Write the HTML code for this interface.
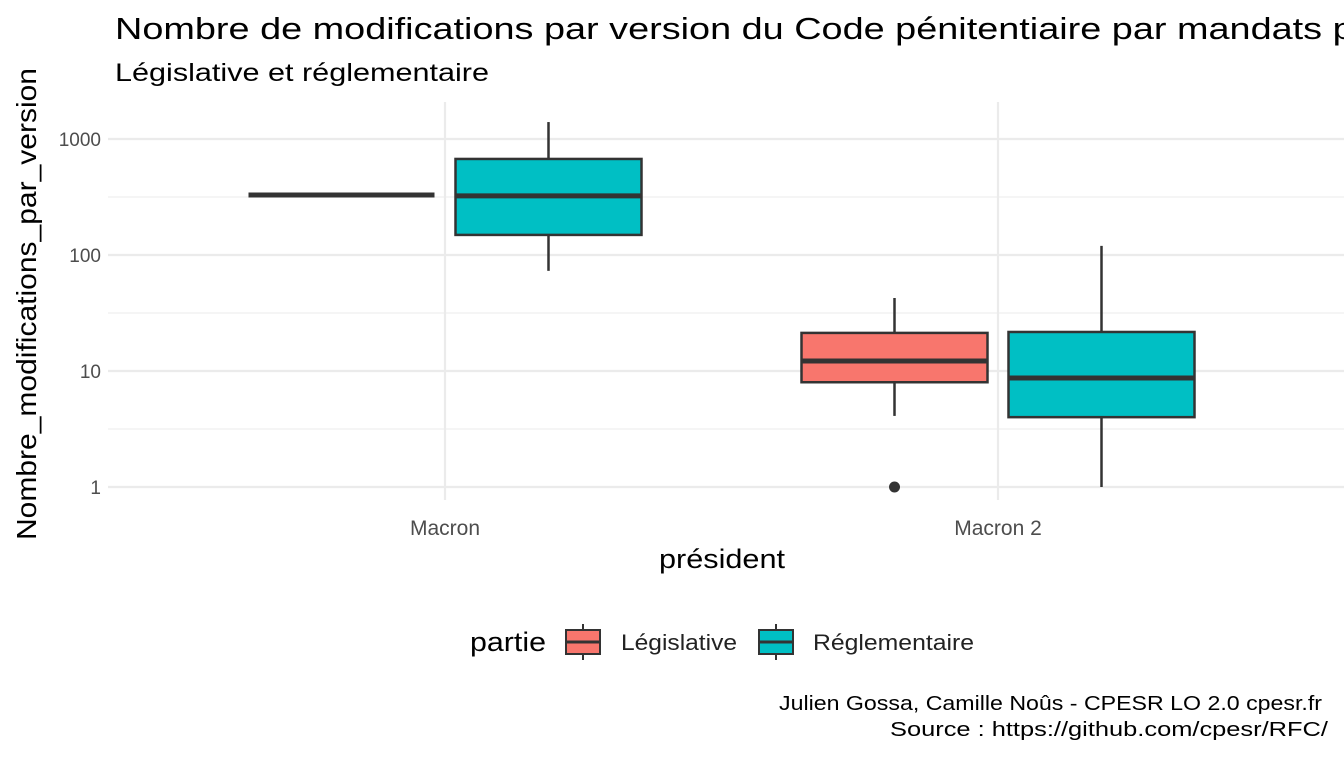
<!DOCTYPE html>
<html><head><meta charset="utf-8"><style>
body{margin:0;background:#fff;font-family:"Liberation Sans",sans-serif;overflow:hidden;}
svg text{font-family:"Liberation Sans",sans-serif;}
</style></head><body>
<svg id="c" width="1344" height="756" xmlns="http://www.w3.org/2000/svg">
<text x="115" y="39" font-size="31" fill="#000" textLength="1430" lengthAdjust="spacingAndGlyphs">Nombre de modifications par version du Code pénitentiaire par mandats présidentiels</text>
<text x="115" y="81" font-size="25" fill="#000" textLength="374" lengthAdjust="spacingAndGlyphs">Législative et réglementaire</text>
<g id="grid"></g>
<g id="marks"></g>
<text transform="translate(36,304) rotate(-90)" text-anchor="middle" font-size="28" fill="#000" textLength="472" lengthAdjust="spacingAndGlyphs">Nombre_modifications_par_version</text>
<text x="722" y="568" text-anchor="middle" font-size="27" fill="#000" textLength="126" lengthAdjust="spacingAndGlyphs">président</text>
<g>
<text x="470" y="651" font-size="27" fill="#000" textLength="76" lengthAdjust="spacingAndGlyphs">partie</text>
<g>
<line x1="583" y1="624" x2="583" y2="660" stroke="#333" stroke-width="2"/>
<rect x="566" y="630" width="34" height="24" fill="#F8766D" stroke="#333" stroke-width="2"/>
<line x1="566" y1="642" x2="600" y2="642" stroke="#333" stroke-width="3"/>
<text x="621" y="650" font-size="22" fill="#222" textLength="116" lengthAdjust="spacingAndGlyphs">Législative</text></g>
<g>
<line x1="776" y1="624" x2="776" y2="660" stroke="#333" stroke-width="2"/>
<rect x="759" y="630" width="34" height="24" fill="#00BFC4" stroke="#333" stroke-width="2"/>
<line x1="759" y1="642" x2="793" y2="642" stroke="#333" stroke-width="3"/>
<text x="813" y="650" font-size="22" fill="#222" textLength="161" lengthAdjust="spacingAndGlyphs">Réglementaire</text></g>
</g>
<text x="779" y="710" font-size="20" fill="#000" textLength="543" lengthAdjust="spacingAndGlyphs">Julien Gossa, Camille Noûs - CPESR LO 2.0 cpesr.fr</text>
<text x="890" y="736" font-size="20" fill="#000" textLength="438" lengthAdjust="spacingAndGlyphs">Source : https://github.com/cpesr/RFC/</text>
</svg>
<script>
const categories=["Macron","Macron 2"];
const series=["Législative","Réglementaire"];
const colors=["#F8766D","#00BFC4"];
const lowWhisker=[[329,73],[4.1,1]];
const q1=[[329,149],[8,4]];
const median=[[329,323],[12.2,8.7]];
const q3=[[329,673],[21.3,21.7]];
const highWhisker=[[329,1400],[42.6,120]];
const outliers=[[[],[]],[[1],[]]];
const yTicks=[1,10,100,1000];
const yTickLabels=["1","10","100","1000"];
const NS="http://www.w3.org/2000/svg";
const pleft=108,pright=1344,ptop=102,pbottom=500;
const yS=v=>487-116*Math.log10(v);
const xc=i=>445+i*553;
const off=[-103.5,103.5],bw=186;
function mk(tag,attrs,parent){const e=document.createElementNS(NS,tag);for(const k in attrs)e.setAttribute(k,attrs[k]);parent.appendChild(e);return e;}
const grid=document.getElementById('grid'),marks=document.getElementById('marks'),svgEl=document.getElementById('c');
yTicks.forEach((t,i)=>{
  const g=mk('line',{x1:pleft,x2:pright,y1:yS(t),y2:yS(t),stroke:'#ebebeb','stroke-width':2.2},grid);
  
  
  if(i<yTicks.length-1){
    const m=mk('line',{x1:pleft,x2:pright,y1:yS(t*Math.sqrt(10)),y2:yS(t*Math.sqrt(10)),stroke:'#ebebeb','stroke-width':1.1},grid);
    
    
  }
  const l=mk('text',{x:101,y:yS(t)+7,'text-anchor':'end','font-size':19,fill:'#4d4d4d'},svgEl);
  l.textContent=yTickLabels[i];
  
  
});
categories.forEach((c,i)=>{
  const g=mk('line',{x1:xc(i),x2:xc(i),y1:ptop,y2:pbottom,stroke:'#ebebeb','stroke-width':2.2},grid);
  
  
  const l=mk('text',{x:xc(i),y:535,'text-anchor':'middle','font-size':21,fill:'#4d4d4d'},svgEl);
  l.textContent=c;
  
  
  series.forEach((s,j)=>{
    const cx=xc(i)+off[j];
    const g2=mk('g',{},marks);
    
    
    mk('line',{x1:cx,x2:cx,y1:yS(highWhisker[i][j]),y2:yS(q3[i][j]),stroke:'#333','stroke-width':2.5},g2);
    mk('line',{x1:cx,x2:cx,y1:yS(q1[i][j]),y2:yS(lowWhisker[i][j]),stroke:'#333','stroke-width':2.5},g2);
    mk('rect',{x:cx-bw/2,y:yS(q3[i][j]),width:bw,height:Math.max(0,yS(q1[i][j])-yS(q3[i][j])),fill:colors[j],stroke:'#333','stroke-width':2.5},g2);
    mk('line',{x1:cx-bw/2,x2:cx+bw/2,y1:yS(median[i][j]),y2:yS(median[i][j]),stroke:'#333','stroke-width':5},g2);
    outliers[i][j].forEach(o=>{
      const p=mk('circle',{cx:cx,cy:yS(o),r:5.5,fill:'#333'},g2);
      
      
    });
  });
});
</script>
</body></html>
